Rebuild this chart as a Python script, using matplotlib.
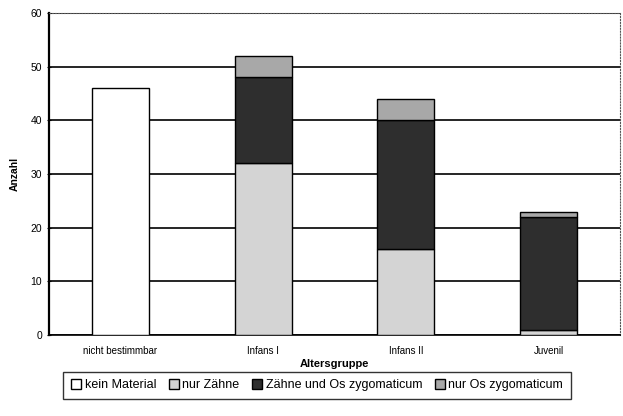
import numpy as np
import matplotlib.pyplot as plt

plt.rcParams['font.family'] = ['Liberation Sans', 'DejaVu Sans']

categories = ['nicht bestimmbar', 'Infans I', 'Infans II', 'Juvenil']
kein_material = [46, 0, 0, 0]
nur_zaehne = [0, 32, 16, 1]
zaehne_und_os = [0, 16, 24, 21]
nur_os = [0, 4, 4, 1]

series = [
    ('kein Material', kein_material, 'white'),
    ('nur Zähne', nur_zaehne, '#d4d4d4'),
    ('Zähne und Os zygomaticum', zaehne_und_os, '#2e2e2e'),
    ('nur Os zygomaticum', nur_os, '#a8a8a8'),
]

fig = plt.figure(figsize=(6.23, 4.16), dpi=100)
ax = fig.add_axes([49/623, 1 - 335/416, 571/623, 322/416])

x = np.arange(len(categories))
bottom = np.zeros(len(categories))
for label, vals, color in series:
    vals = np.array(vals, dtype=float)
    keep = vals > 0
    ax.bar(x[keep], vals[keep], 0.4, bottom=bottom[keep], color=color,
           edgecolor='black', linewidth=1.0, label=label, zorder=3)
    bottom += vals

ax.set_xlim(-0.5, 3.5)
ax.set_ylim(0, 60)
ax.set_yticks(np.arange(0, 61, 10))
ax.yaxis.grid(True, color='black', linewidth=1.2, zorder=0)
ax.set_axisbelow(True)

for s in ['top', 'right']:
    ax.spines[s].set_linestyle(':')
    ax.spines[s].set_color('#555555')
ax.spines['left'].set_linewidth(1.6)
ax.spines['bottom'].set_linewidth(1.2)

ax.set_xticks(x)
ax.set_xticklabels(categories, fontsize=7)
ax.tick_params(axis='x', length=0, pad=8)
ax.tick_params(axis='y', labelsize=7.5, length=3, direction='inout')

ax.set_ylabel('Anzahl', fontsize=7.5, fontweight='bold', labelpad=8)
ax.set_xlabel('Altersgruppe', fontsize=8, fontweight='bold', labelpad=2)

leg = fig.legend(loc='lower center', bbox_to_anchor=(317/623, 11/416), ncol=4,
                 fontsize=9, frameon=True, fancybox=False, edgecolor='black',
                 handlelength=0.8, handleheight=0.8, handletextpad=0.3,
                 columnspacing=1.0, borderpad=0.6)
leg.get_frame().set_linewidth(1.0)

fig.savefig('out.png', dpi=100)
